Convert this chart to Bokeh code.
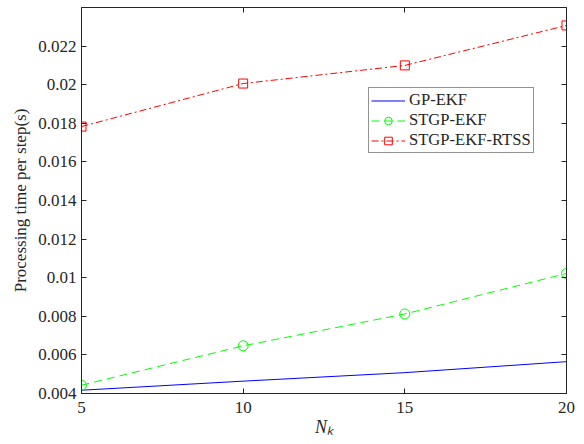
from bokeh.plotting import figure
from bokeh.models import LinearAxis, FixedTicker, Range1d, Legend
from bokeh.embed import file_html
from bokeh.resources import INLINE

# ---- data ----
x_vals = [5, 10, 15, 20]
gp_ekf = [0.00417, 0.00464, 0.00508, 0.00565]
stgp_ekf = [0.00443, 0.00647, 0.00812, 0.01022]
stgp_ekf_rtss = [0.01783, 0.02006, 0.02100, 0.02307]
series_names = ["GP-EKF", "STGP-EKF", "STGP-EKF-RTSS"]
x_ticks = [5, 10, 15, 20]
y_ticks = [0.004, 0.006, 0.008, 0.010, 0.012, 0.014, 0.016, 0.018, 0.020, 0.022]
y_tick_labels = ["0.004", "0.006", "0.008", "0.01", "0.012", "0.014", "0.016", "0.018", "0.02", "0.022"]
y_label = "Processing time per step(s)"
x_label = "N\u2096"   # N with subscript k

FONT = "Liberation Serif"
TXT = "#262626"

p = figure(frame_width=485, frame_height=386, output_backend="svg", toolbar_location=None,
           x_range=Range1d(5, 20), y_range=Range1d(0.004, 0.024),
           min_border_left=81, min_border_right=10, min_border_top=7, min_border_bottom=43)
p.background_fill_color = "white"
p.border_fill_color = "white"
p.outline_line_color = TXT
p.outline_line_width = 1
p.xgrid.visible = False
p.ygrid.visible = False

def style_axis(ax):
    ax.axis_line_color = TXT
    ax.major_tick_line_color = TXT
    ax.major_tick_in = 5
    ax.major_tick_out = 0
    ax.minor_tick_line_color = None
    ax.major_label_text_font = FONT
    ax.major_label_text_color = TXT
    ax.major_label_text_font_size = "17px"

xa = p.xaxis[0]
ya = p.yaxis[0]
xa.ticker = FixedTicker(ticks=x_ticks)
ya.ticker = FixedTicker(ticks=y_ticks)
ya.major_label_overrides = {t: l for t, l in zip(y_ticks, y_tick_labels)}
style_axis(xa)
style_axis(ya)
xa.major_label_standoff = 8
ya.major_label_standoff = 5
ya.axis_label = y_label
ya.axis_label_text_font = FONT
ya.axis_label_text_font_style = "normal"
ya.axis_label_text_font_size = "17px"
ya.axis_label_text_color = TXT
ya.axis_label_standoff = 5

xa.axis_label = x_label
xa.axis_label_text_font = FONT
xa.axis_label_text_font_style = "italic"
xa.axis_label_text_font_size = "18px"
xa.axis_label_text_color = TXT
xa.axis_label_standoff = 1

# box axes (right / top) with inward ticks, no labels
ra = LinearAxis(ticker=FixedTicker(ticks=y_ticks))
style_axis(ra)
ra.major_label_overrides = {t: "" for t in y_ticks}
ra.major_label_standoff = 0
p.add_layout(ra, "right")
ta = LinearAxis(ticker=FixedTicker(ticks=x_ticks))
style_axis(ta)
ta.major_label_overrides = {t: "" for t in x_ticks}
ta.major_label_standoff = 0
p.add_layout(ta, "above")

# series
l1 = p.line(x_vals, gp_ekf, line_color="#0000ff", line_width=1)
l2 = p.line(x_vals, stgp_ekf, line_color="#00ff00", line_width=1, line_dash="8 5")
m2 = p.scatter(x_vals, stgp_ekf, marker="circle", size=10, line_color="#00ff00", fill_color=None, line_width=1)
l3 = p.line(x_vals, stgp_ekf_rtss, line_color="#ff0000", line_width=1, line_dash="7 3 2 3")
m3 = p.scatter(x_vals, stgp_ekf_rtss, marker="square", size=9, line_color="#ff0000", fill_color=None, line_width=1)

legend = Legend(items=[(series_names[0], [l1]), (series_names[1], [l2, m2]), (series_names[2], [l3, m3])],
                location=(287, 240))
legend.label_text_font = FONT
legend.label_text_font_size = "16.6px"
legend.label_text_color = TXT
legend.glyph_width = 34
legend.glyph_height = 19
legend.label_height = 19
legend.label_standoff = 4
legend.spacing = 0
legend.padding = 2
legend.margin = 0
legend.border_line_color = TXT
legend.border_line_width = 1
legend.background_fill_color = "white"
legend.background_fill_alpha = 1
p.add_layout(legend, "center")

open("out.html", "w").write(file_html(p, INLINE))
